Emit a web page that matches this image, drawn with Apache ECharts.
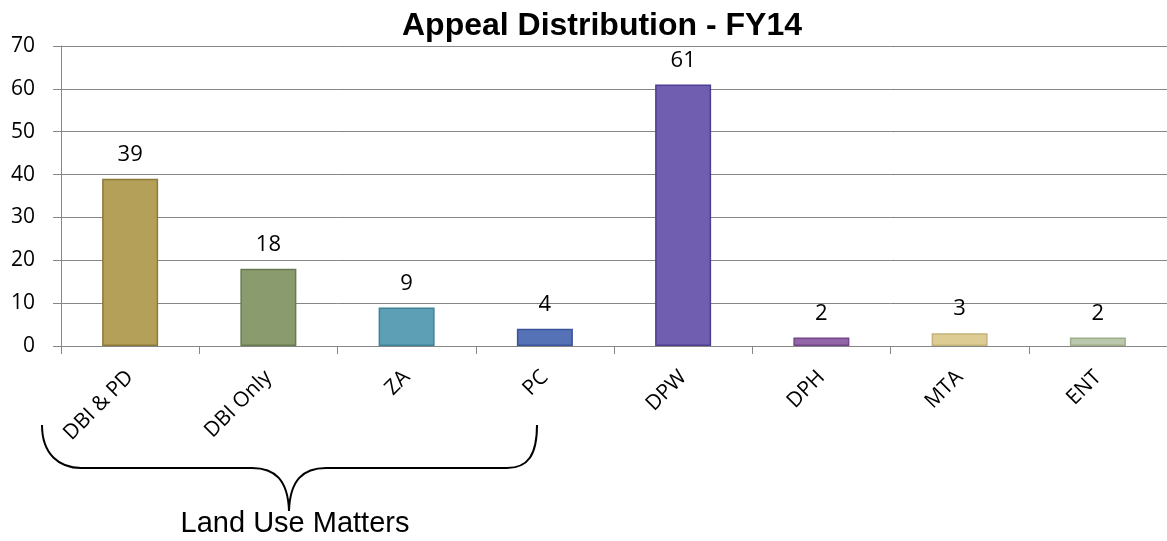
<!DOCTYPE html>
<html>
<head>
<meta charset="utf-8">
<script src="https://cdn.jsdelivr.net/npm/echarts@6/dist/echarts.min.js"></script>
<style>
html,body{margin:0;padding:0;background:#fff;}
#chart{width:1167px;height:541px;}
</style>
</head>
<body>
<div id="chart"></div>
<script>
var categories = ['DBI & PD', 'DBI Only', 'ZA', 'PC', 'DPW', 'DPH', 'MTA', 'ENT'];
var appeals = [39, 18, 9, 4, 61, 2, 3, 2];
var yTicks = { min: 0, max: 70, step: 10 };

var fills   = ['#B5A05A', '#8A9B6E', '#5DA0B5', '#5672B7', '#705EB0', '#9265A8', '#DDCD95', '#BCC8AB'];
var borders = ['#8C7A38', '#6A7A50', '#3E8398', '#3A549B', '#4F3D90', '#724689', '#C4B478', '#9EAE8A'];

var chart = echarts.init(document.getElementById('chart'));

// brace under the land use categories
function curve(x1, y1, c1x, c1y, c2x, c2y, x2, y2) {
    return {
        type: 'bezierCurve',
        shape: { x1: x1, y1: y1, cpx1: c1x, cpy1: c1y, cpx2: c2x, cpy2: c2y, x2: x2, y2: y2 },
        style: { fill: 'none', stroke: '#000', lineWidth: 2 }
    };
}
function seg(x1, y1, x2, y2) {
    return {
        type: 'line',
        shape: { x1: x1, y1: y1, x2: x2, y2: y2 },
        style: { stroke: '#000', lineWidth: 2 }
    };
}

var option = {
    animation: false,
    title: {
        text: 'Appeal Distribution - FY14',
        left: 597,
        textAlign: 'center',
        top: 5,
        textStyle: {
            fontFamily: 'Liberation Sans',
            fontSize: 32,
            fontWeight: 'bold',
            color: '#000'
        }
    },
    grid: {
        left: 61,
        top: 46,
        width: 1112,
        bottom: 195
    },
    xAxis: {
        type: 'category',
        data: categories,
        axisLine: { lineStyle: { color: '#868686', width: 1 } },
        axisTick: { show: true, length: 8, lineStyle: { color: '#868686' } },
        axisLabel: {
            rotate: 45,
            margin: 28,
            fontFamily: 'Open Sans',
            fontSize: 21,
            color: '#000'
        }
    },
    yAxis: {
        type: 'value',
        min: yTicks.min,
        max: yTicks.max,
        interval: yTicks.step,
        axisLine: { show: true, lineStyle: { color: '#868686', width: 1 } },
        axisTick: { show: true, length: 8, lineStyle: { color: '#868686' } },
        splitLine: { lineStyle: { color: '#868686', width: 1 } },
        axisLabel: {
            margin: 26,
            fontFamily: 'Open Sans',
            fontSize: 21,
            color: '#000'
        }
    },
    series: [{
        type: 'bar',
        barWidth: 56,
        data: appeals.map(function (v, i) {
            return {
                value: v,
                itemStyle: { color: fills[i], borderColor: borders[i], borderWidth: 1.5 }
            };
        }),
        label: {
            show: true,
            position: 'top',
            distance: 13,
            fontFamily: 'Open Sans',
            fontSize: 22,
            color: '#000'
        }
    }],
    graphic: [
        curve(42, 425, 42, 455, 60, 468, 81, 468),
        seg(81, 468, 252, 468),
        curve(252, 468, 275, 468, 288, 480, 289, 511),
        curve(289, 511, 290, 480, 303, 468, 326, 468),
        seg(326, 468, 507, 468),
        curve(507, 468, 528, 468, 537, 455, 537, 425),
        {
            type: 'text',
            x: 295,
            y: 524,
            style: {
                text: 'Land Use Matters',
                fontFamily: 'Liberation Sans',
                fontSize: 29,
                fill: '#000',
                align: 'center',
                verticalAlign: 'middle'
            }
        }
    ]
};
chart.setOption(option);
</script>
</body>
</html>
